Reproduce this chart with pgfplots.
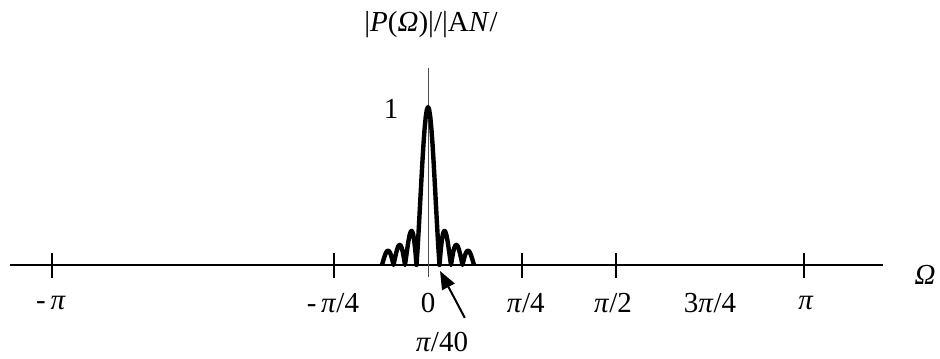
\documentclass[border=0pt]{standalone}
\usepackage{fontspec}
\setmainfont{Liberation Serif}
\usepackage{pgfplots}
\pgfplotsset{compat=1.18}
\usetikzlibrary{arrows.meta}
\begin{document}
\fontsize{14.5}{17}\selectfont
\begin{tikzpicture}[font=\fontsize{14.5}{17}\selectfont, every node/.append style={inner sep=0pt}]
\begin{axis}[
  width=470pt, height=179pt, scale only axis,
  xmin=-1.1383, xmax=1.3617, ymin=-0.5886, ymax=1.6772,
  hide axis, clip=false,
]
\path (rel axis cs:0,0) rectangle (rel axis cs:1,1);
% axes
\draw[line width=0.6pt] (axis cs:-1.112,0) -- (axis cs:1.210,0);
\draw[line width=0.5pt, black!70] (axis cs:0,1.247) -- (axis cs:0,-0.076);
% ticks
\foreach \t in {-1,-0.25,0.25,0.5,1}{
  \edef\tmp{\noexpand\draw[line width=0.8pt] (axis cs:\t,0.076) -- (axis cs:\t,-0.082);}\tmp
}
% curve
\addplot[black, line width=2.2pt, line join=round] coordinates {
(-0.1224,0) (-0.11934,0.02522) (-0.11628,0.04924) (-0.11322,0.06960) (-0.11016,0.08409) (-0.1071,0.09095) (-0.10404,0.08904) (-0.10098,0.07804) (-0.09792,0.05847) (-0.09486,0.03173) (-0.0918,0)
(-0.08874,0.03392) (-0.08568,0.06682) (-0.08262,0.09538) (-0.07956,0.11643) (-0.0765,0.12732) (-0.07344,0.12614) (-0.07038,0.11196) (-0.06732,0.08504) (-0.06426,0.04684) (-0.0612,0)
(-0.05814,0.05177) (-0.05508,0.10394) (-0.05202,0.15148) (-0.04896,0.18921) (-0.0459,0.21221) (-0.04284,0.21624) (-0.03978,0.19809) (-0.03672,0.15592) (-0.03366,0.08942) (-0.0306,0)
(-0.02754,0.10929) (-0.02448,0.23387) (-0.02142,0.36788) (-0.01836,0.50455) (-0.0153,0.63662) (-0.01224,0.75683) (-0.00918,0.85839) (-0.00612,0.93549) (-0.00306,0.98363) (0,1)
(0.00306,0.98363) (0.00612,0.93549) (0.00918,0.85839) (0.01224,0.75683) (0.0153,0.63662) (0.01836,0.50455) (0.02142,0.36788) (0.02448,0.23387) (0.02754,0.10929) (0.0306,0)
(0.03366,0.08942) (0.03672,0.15592) (0.03978,0.19809) (0.04284,0.21624) (0.0459,0.21221) (0.04896,0.18921) (0.05202,0.15148) (0.05508,0.10394) (0.05814,0.05177) (0.0612,0)
(0.06426,0.04684) (0.06732,0.08504) (0.07038,0.11196) (0.07344,0.12614) (0.0765,0.12732) (0.07956,0.11643) (0.08262,0.09538) (0.08568,0.06682) (0.08874,0.03392) (0.0918,0)
(0.09486,0.03173) (0.09792,0.05847) (0.10098,0.07804) (0.10404,0.08904) (0.1071,0.09095) (0.11016,0.08409) (0.11322,0.06960) (0.11628,0.04924) (0.11934,0.02522) (0.1224,0)
};
% labels
\node at (axis cs:-1.003,-0.241) {-\,\textit{π}};
\node at (axis cs:-0.253,-0.241) {-\,\textit{π}/4};
\node at (axis cs:0,-0.241) {0};
\node at (axis cs:0.26,-0.241) {\textit{π}/4};
\node at (axis cs:0.492,-0.241) {\textit{π}/2};
\node at (axis cs:0.75,-0.241) {3\textit{π}/4};
\node at (axis cs:1.005,-0.241) {\textit{π}};
\node at (axis cs:1.322,-0.063) {\textit{Ω}};
\node at (axis cs:-0.098,0.987) {1};
\node at (axis cs:0.008,1.519) {|\textit{P}(\textit{Ω})|/|A\textit{N}/};
\node at (axis cs:0.037,-0.485) {\textit{π}/40};
\draw[line width=1pt, -{Triangle[length=9pt,width=7pt]}] (axis cs:0.098,-0.335) -- (axis cs:0.032,-0.038);
\end{axis}
\end{tikzpicture}
\end{document}
